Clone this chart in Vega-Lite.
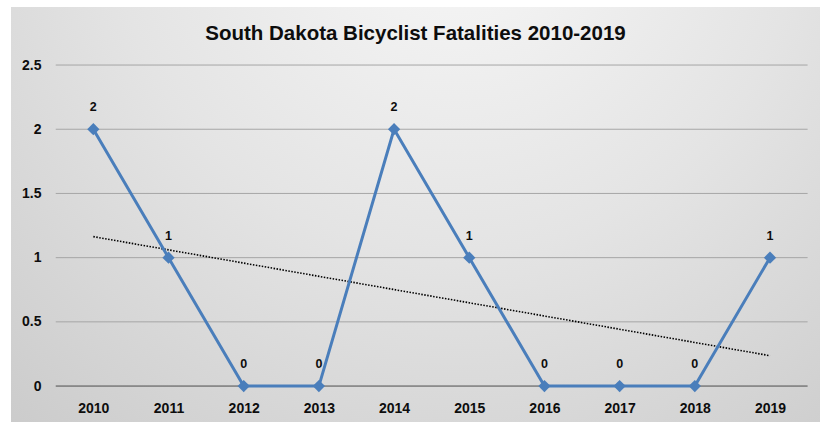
{
  "$schema": "https://vega.github.io/schema/vega-lite/v6.json",
  "width": 809,
  "height": 415,
  "autosize": {"type": "none"},
  "padding": {"left": 11, "top": 7, "right": 4, "bottom": 0},
  "background": "#ffffff",
  "title": {
    "text": "South Dakota Bicyclist Fatalities 2010-2019",
    "font": "Liberation Sans",
    "fontSize": 20.5,
    "fontWeight": "bold",
    "color": "#0d0d0d",
    "anchor": "middle",
    "frame": "group",
    "baseline": "alphabetic",
    "offset": -53
  },
  "datasets": {
    "fatal": [
      {"year": 2010, "fatalities": 2},
      {"year": 2011, "fatalities": 1},
      {"year": 2012, "fatalities": 0},
      {"year": 2013, "fatalities": 0},
      {"year": 2014, "fatalities": 2},
      {"year": 2015, "fatalities": 1},
      {"year": 2016, "fatalities": 0},
      {"year": 2017, "fatalities": 0},
      {"year": 2018, "fatalities": 0},
      {"year": 2019, "fatalities": 1}
    ],
    "grid": [
      {"fatalities": 0},
      {"fatalities": 0.5},
      {"fatalities": 1},
      {"fatalities": 1.5},
      {"fatalities": 2},
      {"fatalities": 2.5}
    ]
  },
  "encoding": {
    "x": {
      "field": "year",
      "type": "quantitative",
      "scale": {"domain": [2008.905, 2019.665], "nice": false, "zero": false},
      "axis": {
        "orient": "bottom",
        "values": [2010, 2011, 2012, 2013, 2014, 2015, 2016, 2017, 2018, 2019],
        "format": "d",
        "title": null,
        "grid": false,
        "domain": false,
        "ticks": false,
        "tickSize": 0,
        "labelPadding": 0,
        "offset": -21,
        "labelFont": "Liberation Sans",
        "labelFontSize": 14,
        "labelFontWeight": "bold",
        "labelColor": "#0d0d0d",
        "labelBaseline": "top",
        "labelFlush": false,
        "labelOverlap": false
      }
    },
    "y": {
      "field": "fatalities",
      "type": "quantitative",
      "scale": {"domain": [-0.28, 2.952], "nice": false, "zero": false},
      "axis": {
        "orient": "left",
        "values": [0, 0.5, 1, 1.5, 2, 2.5],
        "format": ".1~f",
        "title": null,
        "grid": false,
        "domain": false,
        "ticks": false,
        "tickSize": 0,
        "labelPadding": 0,
        "offset": -30,
        "labelFont": "Liberation Sans",
        "labelFontSize": 14,
        "labelFontWeight": "bold",
        "labelColor": "#0d0d0d",
        "labelAlign": "right",
        "labelBaseline": "middle",
        "labelFlush": false,
        "labelOverlap": false
      }
    }
  },
  "layer": [
    {
      "data": {"name": "grid"},
      "mark": {"type": "rule", "strokeWidth": 1, "x": {"expr": "scale('x', 2009.5)"}, "x2": {"expr": "scale('x', 2019.5)"}},
      "encoding": {
        "x": null,
        "color": {
          "condition": {"test": "datum.fatalities === 0", "value": "#4d4d4d"},
          "value": "#a6a6a6"
        }
      }
    },
    {
      "data": {"name": "fatal"},
      "transform": [
        {"regression": "fatalities", "on": "year", "extent": [2010, 2019]}
      ],
      "mark": {"type": "line", "color": "#000000", "strokeWidth": 1.6, "strokeDash": [1.5, 1.5]}
    },
    {
      "data": {"name": "fatal"},
      "mark": {
        "type": "line",
        "color": "#4a7ebb",
        "strokeWidth": 3,
        "point": {"shape": "diamond", "size": 150, "filled": true, "color": "#4a7ebb"}
      }
    },
    {
      "data": {"name": "fatal"},
      "mark": {
        "type": "text",
        "dy": -22,
        "font": "Liberation Sans",
        "fontSize": 12.5,
        "fontWeight": "bold",
        "color": "#0d0d0d",
        "baseline": "middle"
      },
      "encoding": {
        "text": {"field": "fatalities", "type": "quantitative"}
      }
    }
  ],
  "config": {
    "view": {
      "stroke": null,
      "fill": {
        "gradient": "radial",
        "x1": 0.55, "y1": 0.12, "r1": 0,
        "x2": 0.55, "y2": 0.12, "r2": 0.85,
        "stops": [
          {"offset": 0, "color": "#f8f8f8"},
          {"offset": 0.5, "color": "#e4e4e4"},
          {"offset": 1, "color": "#cbcbcb"}
        ]
      }
    }
  }
}
